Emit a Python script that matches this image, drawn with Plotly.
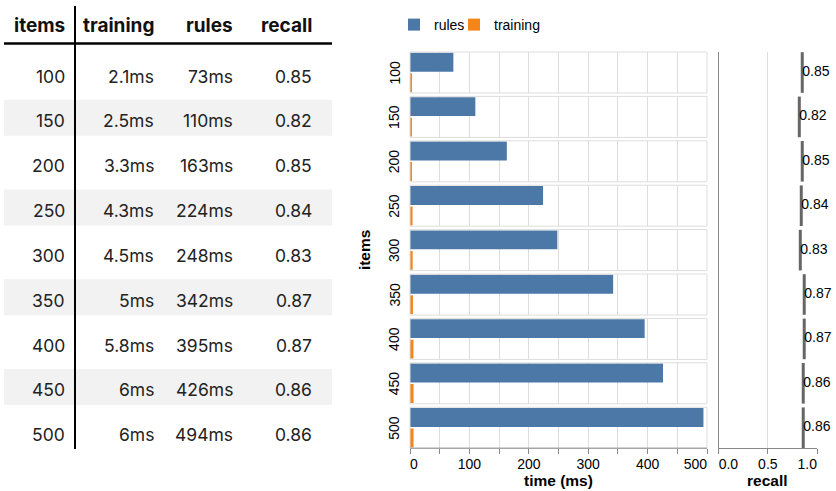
import plotly.graph_objects as go

# ---------------- data ----------------
items = [100, 150, 200, 250, 300, 350, 400, 450, 500]
training_ms = [2.1, 2.5, 3.3, 4.3, 4.5, 5, 5.8, 6, 6]
rules_ms = [73, 110, 163, 224, 248, 342, 395, 426, 494]
recall = [0.85, 0.82, 0.85, 0.84, 0.83, 0.87, 0.87, 0.86, 0.86]

table_headers = ["items", "training", "rules", "recall"]
series_names = ["rules", "training"]
time_ticks = [0, 50, 100, 150, 200, 250, 300, 350, 400, 450, 500]
recall_ticks = [0, 0.5, 1.0]

# ---------------- style / layout constants ----------------
W, H = 836, 491
BLUE, ORANGE = "#4c78a8", "#f58518"
GRID, DOMAIN = "#dddddd", "#888888"
TFONT = "Inter"
CFONT = "Liberation Sans, Arial, sans-serif"
FIG_SP = "\u2007"   # figure space (digit width), used to flush edge tick labels
PUN_SP = "\u2008"   # punctuation space (width of '.')


def px(x):
    return x / W


def py(y):
    return 1 - y / H


def pad(s):
    return "".join(FIG_SP if ch.isdigit() else PUN_SP for ch in s)


def flush(labels):
    """Left-flush the first label and right-flush the last one (like Vega labelFlush)."""
    out = list(labels)
    out[0] = pad(out[0]) + out[0]
    out[-1] = out[-1] + pad(out[-1])
    return out


item_labels = [str(v) for v in items]
n = len(items)

# facet geometry (pixels)
F_TOP, F_H, F_PITCH = 52.0, 41.0, 44.4
BX0, BX1 = 410.0, 707.0
RX0, RX1 = 718.7, 817.0
F_BOTTOM = F_TOP + F_PITCH * (n - 1) + F_H

fig = go.Figure()
layout_axes = {}
shapes = []
annotations = []


def axname(k):
    return ("x" if k == 0 else f"x{k+1}"), ("y" if k == 0 else f"y{k+1}")


time_text = flush([str(t) if t % 100 == 0 else "" for t in time_ticks])

# ---------------- faceted bars ----------------
for i in range(n):
    xa, ya = axname(i)
    top = F_TOP + F_PITCH * i
    bot = top + F_H
    fig.add_trace(go.Bar(x=[rules_ms[i]], y=[series_names[0]], orientation="h",
                         marker=dict(color=BLUE, line=dict(width=0)),
                         name=series_names[0], legendgroup=series_names[0],
                         legend="legend", showlegend=(i == 0), xaxis=xa, yaxis=ya))
    fig.add_trace(go.Bar(x=[training_ms[i]], y=[series_names[1]], orientation="h",
                         marker=dict(color=ORANGE, line=dict(width=0)),
                         name=series_names[1], legendgroup=series_names[1],
                         legend="legend2", showlegend=(i == 0), xaxis=xa, yaxis=ya))
    last = (i == n - 1)
    xkey = "xaxis" if i == 0 else f"xaxis{i+1}"
    ykey = "yaxis" if i == 0 else f"yaxis{i+1}"
    layout_axes[xkey] = dict(
        domain=[px(BX0), px(BX1)], anchor=ya, range=[0, 500],
        showgrid=True, gridcolor=GRID, gridwidth=1, zeroline=False,
        tickvals=time_ticks, ticktext=time_text,
        showticklabels=last, ticks="outside" if last else "",
        ticklen=5, tickcolor=DOMAIN, tickwidth=1, ticklabelstandoff=-2,
        showline=False, automargin=False, ticklabeloverflow="allow",
        tickfont=dict(family=CFONT, size=14, color="#000"),
        fixedrange=True,
    )
    layout_axes[ykey] = dict(
        domain=[py(bot), py(top)], anchor=xa, type="category",
        categoryorder="array", categoryarray=series_names,
        autorange="reversed", showticklabels=False, showgrid=False,
        zeroline=False, ticks="", showline=False, fixedrange=True,
        automargin=False,
    )
    shapes.append(dict(type="rect", xref=f"{xa} domain", yref=f"{ya} domain",
                       x0=0, x1=1, y0=0, y1=1, line=dict(color=GRID, width=1),
                       layer="above"))
    if last:
        shapes.append(dict(type="line", xref=f"{xa} domain", yref=f"{ya} domain",
                           x0=0, x1=1, y0=0, y1=0, line=dict(color=DOMAIN, width=1),
                           layer="above"))
    annotations.append(dict(text=item_labels[i], xref="paper", yref="paper",
                            x=px(394), y=py((top + bot) / 2), textangle=-90,
                            showarrow=False, xanchor="center", yanchor="middle",
                            font=dict(family=CFONT, size=14, color="#000")))

# ---------------- recall panel ----------------
rxa, rya = axname(n)
c0 = F_TOP + F_H / 2
r_lo = (F_TOP - c0) / F_PITCH
r_hi = (F_BOTTOM - c0) / F_PITCH
fig.add_trace(go.Scatter(x=recall, y=item_labels, mode="markers",
                         marker=dict(symbol="line-ns", size=29,
                                     line=dict(width=3, color="#666666")),
                         showlegend=False, xaxis=rxa, yaxis=rya, cliponaxis=False))
fig.add_trace(go.Scatter(x=recall, y=item_labels, mode="text",
                         text=[f"{v:.2f}" for v in recall],
                         textposition="middle right",
                         marker=dict(size=2),
                         textfont=dict(family=CFONT, size=14, color="#000"),
                         showlegend=False, xaxis=rxa, yaxis=rya, cliponaxis=False))
layout_axes[f"xaxis{n+1}"] = dict(
    domain=[px(RX0), px(RX1)], anchor=rya, range=[0, 1],
    tickvals=recall_ticks, ticktext=flush([f"{t:.1f}" for t in recall_ticks]),
    showgrid=True, gridcolor=GRID, zeroline=False,
    ticks="outside", ticklen=5, tickcolor=DOMAIN, ticklabelstandoff=-2,
    showline=True, linecolor=DOMAIN, linewidth=1, automargin=False,
    ticklabeloverflow="allow",
    tickfont=dict(family=CFONT, size=14, color="#000"), fixedrange=True,
)
layout_axes[f"yaxis{n+1}"] = dict(
    domain=[py(F_BOTTOM), py(F_TOP)], anchor=rxa, type="category",
    categoryorder="array", categoryarray=item_labels,
    range=[r_hi, r_lo], showticklabels=False, showgrid=False, zeroline=False,
    ticks="", showline=True, linecolor=DOMAIN, linewidth=1, fixedrange=True,
    automargin=False,
)

# axis titles
annotations.append(dict(text="<b>time (ms)</b>", xref="paper", yref="paper",
                        x=px((BX0 + BX1) / 2), y=py(480), showarrow=False,
                        xanchor="center", yanchor="middle",
                        font=dict(family=CFONT, size=15.5, color="#000")))
annotations.append(dict(text="<b>recall</b>", xref="paper", yref="paper",
                        x=px((RX0 + RX1) / 2), y=py(480), showarrow=False,
                        xanchor="center", yanchor="middle",
                        font=dict(family=CFONT, size=15.5, color="#000")))
annotations.append(dict(text="<b>items</b>", xref="paper", yref="paper",
                        x=px(364), y=py((F_TOP + F_BOTTOM) / 2), textangle=-90,
                        showarrow=False, xanchor="center", yanchor="middle",
                        font=dict(family=CFONT, size=15.5, color="#000")))

# ---------------- table ----------------
col_right = [66, 155, 234, 313]
ROW0, ROW_PITCH = 76.0, 44.85
HEAD_Y = 25.0
for c, h in enumerate(table_headers):
    annotations.append(dict(text=f"<b>{h}</b>", xref="paper", yref="paper",
                            x=px(col_right[c] + 1), y=py(HEAD_Y), showarrow=False,
                            xanchor="right", yanchor="middle",
                            font=dict(family=TFONT, size=19, color="#111")))
for i in range(n):
    yc = ROW0 + ROW_PITCH * i
    if i % 2 == 1:
        shapes.append(dict(type="rect", xref="paper", yref="paper",
                           x0=px(4), x1=px(332), y0=py(yc - 3 + 18), y1=py(yc - 3 - 18),
                           fillcolor="#f2f2f2", line=dict(width=0), layer="below"))
    cells = [str(items[i]), f"{training_ms[i]:g}ms", f"{rules_ms[i]}ms", f"{recall[i]:.2f}"]
    for c, t in enumerate(cells):
        annotations.append(dict(text=t, xref="paper", yref="paper",
                                x=px(col_right[c] + 1), y=py(yc), showarrow=False,
                                xanchor="right", yanchor="middle",
                                font=dict(family=TFONT, size=17.5, color="#222")))
shapes.append(dict(type="line", xref="paper", yref="paper",
                   x0=px(4), x1=px(332), y0=py(43.5), y1=py(43.5),
                   line=dict(color="#000", width=2.5), layer="above"))
shapes.append(dict(type="line", xref="paper", yref="paper",
                   x0=px(75), x1=px(75), y0=py(6), y1=py(449),
                   line=dict(color="#000", width=2), layer="above"))

legend_common = dict(orientation="h", xanchor="left", yanchor="middle",
                     font=dict(family=CFONT, size=14, color="#000"),
                     itemwidth=30, bgcolor="rgba(0,0,0,0)", borderwidth=0)
fig.update_layout(
    width=W, height=H,
    margin=dict(l=0, r=0, t=0, b=0, pad=0, autoexpand=False),
    paper_bgcolor="white", plot_bgcolor="white",
    barmode="overlay", bargap=0.08,
    showlegend=True,
    legend=dict(x=px(394), y=py(25), **legend_common),
    legend2=dict(x=px(454), y=py(25), **legend_common),
    shapes=shapes, annotations=annotations,
    **layout_axes,
)

fig.write_html("out.html", config={"displayModeBar": False},
               post_script="document.body.style.margin='0';")
